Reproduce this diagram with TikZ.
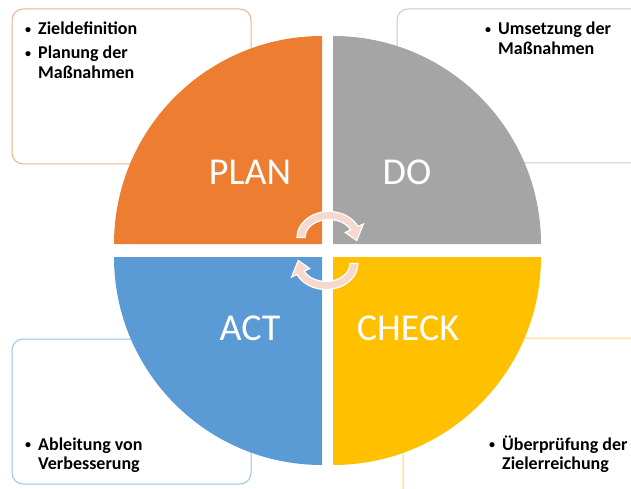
\documentclass[tikz,border=0pt]{standalone}
\usepackage{fontspec}
\setmainfont{Carlito}
\usetikzlibrary{calc}
\definecolor{planorange}{HTML}{ED7D31}
\definecolor{dogray}{HTML}{A5A5A5}
\definecolor{checkyellow}{HTML}{FFC000}
\definecolor{actblue}{HTML}{5B9BD5}
\definecolor{planline}{HTML}{F4B183}
\definecolor{doline}{HTML}{C9C9C9}
\definecolor{checkline}{HTML}{FFD966}
\definecolor{actline}{HTML}{9DC3E6}
\definecolor{cyclepink}{RGB}{247,216,204}
\newcommand{\pointlist}[1]{\begin{tabular}[t]{@{}l@{}l@{}}#1\end{tabular}}
\newcommand{\pdcadot}{\makebox[13pt][l]{\raisebox{1.6pt}{\fontsize{12}{12}\selectfont\textbullet}}}

\begin{document}
\begin{tikzpicture}[x=1pt,y=1pt,
  infobox/.style={line width=1pt,rounded corners=11pt,fill=white},
  phase/.style={font=\fontsize{38}{38}\selectfont,text=white,inner sep=0pt},
  points/.style={font=\bfseries\fontsize{18}{19.5}\selectfont,inner sep=0pt,anchor=base west},
  turn/.style={fill=cyclepink,draw=white,line width=1.2pt}]
\useasboundingbox (0,0) rectangle (631,488);
\clip (0,0) rectangle (631,488);

% text boxes behind the circle
\draw[infobox,draw=planline] (12,324) rectangle (251,479);
\draw[infobox,draw=doline] (397,325) rectangle (660,479);
\draw[infobox,draw=actline] (12,4) rectangle (251,149);
\draw[infobox,draw=checkline] (403,-20) rectangle (660,150);

% four quarters
\fill[planorange] (322,244) -- ++(180:208pt) arc[start angle=180,end angle=90,radius=208pt] -- cycle;
\fill[dogray] (333,244) -- ++(90:208pt) arc[start angle=90,end angle=0,radius=208pt] -- cycle;
\fill[checkyellow] (333,231) -- ++(0:208pt) arc[start angle=0,end angle=-90,radius=208pt] -- cycle;
\fill[actblue] (322,231) -- ++(-90:208pt) arc[start angle=-90,end angle=-180,radius=208pt] -- cycle;

\node[phase] (plan) at (250,316) {PLAN};
\node[phase] (do) at (407,316) {DO};
\node[phase] (act) at (250,160) {ACT};
\node[phase] (check) at (408,160) {CHECK};

% cycle arrows in the middle
\coordinate (upper) at (329,250.5);
\coordinate (lower) at (326,224.5);
\filldraw[turn] ($(upper)+(180:32pt and 26pt)$) arc[start angle=180,end angle=25,x radius=32pt,y radius=26pt]
  -- ($(upper)+(25:38pt and 32pt)$) -- ($(upper)+(-8:28pt and 22pt)$) -- ($(upper)+(25:18pt and 12pt)$)
  -- ($(upper)+(25:24pt and 18pt)$) arc[start angle=25,end angle=180,x radius=24pt,y radius=18pt] -- cycle;
\filldraw[turn] ($(lower)+(0:32pt and 26pt)$) arc[start angle=0,end angle=-155,x radius=32pt,y radius=26pt]
  -- ($(lower)+(-155:38pt and 32pt)$) -- ($(lower)+(-188:28pt and 22pt)$) -- ($(lower)+(-155:18pt and 12pt)$)
  -- ($(lower)+(-155:24pt and 18pt)$) arc[start angle=-155,end angle=0,x radius=24pt,y radius=18pt] -- cycle;

% bullet texts
\node[points] (plantext) at (25,453) {\pointlist{\pdcadot & Zieldefinition\\[4.5pt] \pdcadot & Planung der\\ & Maßnahmen}};
\node[points] (dotext) at (485,453) {\pointlist{\pdcadot & Umsetzung der\\ & Maßnahmen}};
\node[points] (acttext) at (25,38) {\pointlist{\pdcadot & Ableitung von\\ & Verbesserung}};
\node[points] (checktext) at (489,38) {\pointlist{\pdcadot & Überprüfung der\\ & Zielerreichung}};
\end{tikzpicture}
\end{document}
